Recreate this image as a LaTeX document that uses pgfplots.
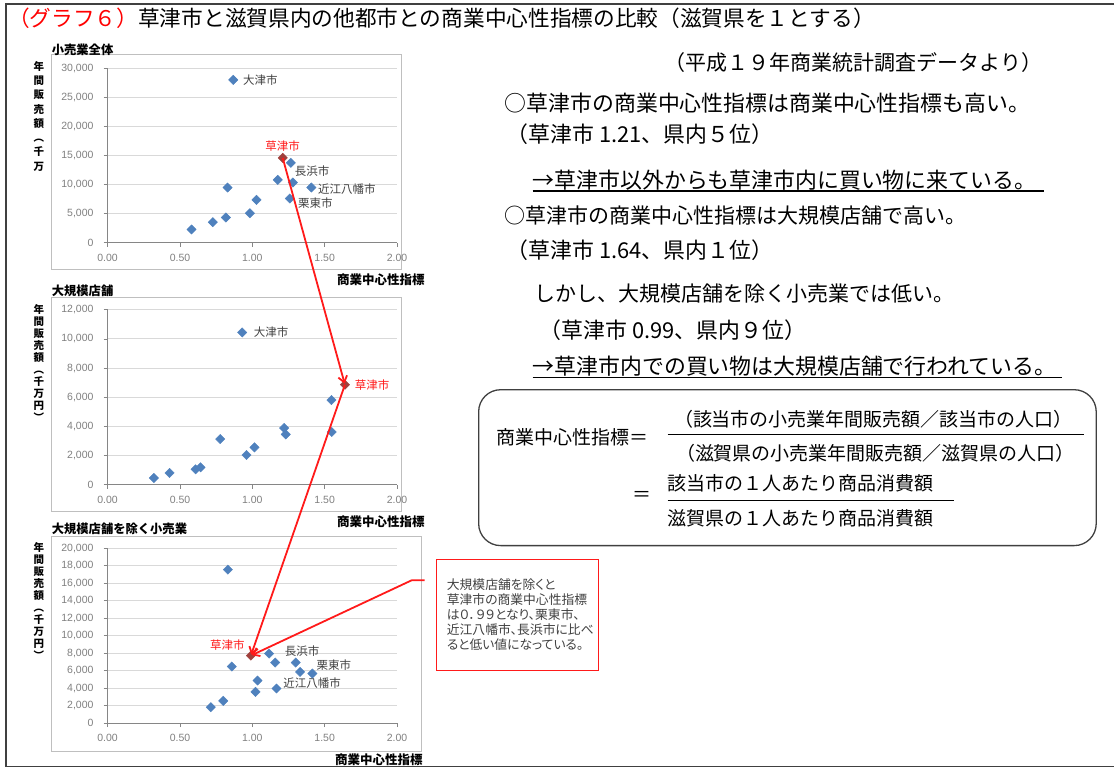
\documentclass[border=0pt]{standalone}
\usepackage{fontspec}
\usepackage{pgfplots}
\pgfplotsset{compat=1.18}
\usetikzlibrary{arrows.meta}
\setmainfont{Noto Sans CJK JP}
\newfontfamily\numfont{Liberation Sans}
\newfontfamily\pfont[RawFeature=+palt]{Noto Sans CJK JP}
\definecolor{ptblue}{HTML}{4F81BD}
\definecolor{ptred}{HTML}{A0403C}
\definecolor{arrred}{HTML}{FF1A1A}
\definecolor{gridgray}{HTML}{D9D9D9}
\definecolor{axisgray}{HTML}{868686}
\definecolor{tickgray}{HTML}{7F7F7F}
\definecolor{boxgray}{HTML}{BFBFBF}
\definecolor{txtgray}{HTML}{404040}

\pgfplotsset{
  kpanel/.style={
    scale only axis, width=289.6pt, xmin=0, xmax=2, ymin=0,
    axis lines=left, axis line style={draw=axisgray, line width=0.8pt, -},
    xtick={0,0.5,1,1.5,2}, xticklabels={0.00,0.50,1.00,1.50,2.00},
    ymajorgrids, grid style={draw=gridgray, line width=0.9pt},
    tick style={draw=axisgray, line width=0.8pt}, major tick length=4pt, tick align=outside,
    ticklabel style={font=\numfont\fontsize{10.5}{12}\selectfont, text=tickgray},
    /pgf/number format/assume math mode=true,
    /pgf/number format/fixed, /pgf/number format/1000 sep={,},
    scaled y ticks=false,
    yticklabel style={inner sep=0pt, xshift=-10pt},
    xticklabel style={inner sep=0pt, yshift=-7pt},
    clip=false, anchor=origin,
  },
  pts/.style={only marks, mark=square*, mark size=3.3pt, mark options={rotate=45, fill=ptblue, draw=ptblue}},
  kpt/.style={only marks, mark=square*, mark size=3.3pt, mark options={rotate=45, fill=ptred, draw=ptred}},
}
\tikzset{
  lbl/.style={anchor=west, inner sep=0pt, text=txtgray, font=\fontsize{11.5}{13}\selectfont},
  rlbl/.style={inner sep=0pt, text=arrred, font=\fontsize{11.5}{13}\selectfont},
  ptitle/.style={anchor=west, inner sep=0pt, font=\fontsize{12.3}{14}\selectfont\bfseries},
  xlab/.style={anchor=east, inner sep=0pt, font=\fontsize{12.5}{14}\selectfont\bfseries},
  vlab/.style={anchor=north, inner sep=0pt, align=center, font=\fontsize{10.5}{12}\selectfont\bfseries},
  rt/.style={anchor=west, inner sep=0pt, font=\fontsize{21.9}{24}\selectfont},
  rts/.style={anchor=west, inner sep=0pt, font=\fontsize{21}{24}\selectfont},
  ft/.style={inner sep=0pt, font=\fontsize{19}{22}\selectfont},
  ct/.style={anchor=west, inner sep=0pt, text=txtgray, font=\pfont\fontsize{12.8}{15}\selectfont},
}

\begin{document}
\begin{tikzpicture}
\begin{scope}[x=1pt,y=1pt]
\path (0,0) rectangle (1115,770);
% outer frame
\draw[line width=1.6pt, txtgray] (1115,766) -- (6,766) -- (6,3) -- (1115,3);
% chart area boxes
\draw[boxgray, line width=1pt] (51.7,500) rectangle (401.7,715);
\draw[boxgray, line width=1pt] (51.7,258.3) rectangle (401.7,472);
\draw[boxgray, line width=1pt] (51.7,18) rectangle (421.7,233);
\end{scope}

% ---------- Panel 1 ----------
\begin{axis}[kpanel, at={(107.7pt,527pt)}, height=174.7pt, ymax=30000, ytick={0,5000,...,30000}]
\addplot[pts] table {
x y
0.868 28000
1.266 13740
1.176 10820
1.280 10360
1.408 9500
0.829 9500
1.259 7610
1.029 7380
0.983 5090
0.817 4350
0.727 3550
0.580 2290
};
\addplot[kpt] coordinates {(1.21,14600)};
\coordinate (K1) at (axis cs:1.21,14600);
\node[lbl] at (axis cs:0.935,28000) {大津市};
\node[rlbl] at (axis cs:1.21,16650) {草津市};
\node[lbl] at (axis cs:1.293,12240) {長浜市};
\node[lbl] at (axis cs:1.454,9220) {近江八幡市};
\node[lbl] at (axis cs:1.316,6816) {栗東市};
\end{axis}

% ---------- Panel 2 ----------
\begin{axis}[kpanel, at={(107.7pt,285pt)}, height=175pt, ymax=12000, ytick={0,2000,...,12000}]
\addplot[pts] table {
x y
0.930 10446
1.547 5806
1.549 3611
1.220 3886
1.231 3451
0.778 3131
1.015 2560
0.960 2034
0.642 1189
0.608 1051
0.428 800
0.320 457
};
\addplot[kpt] coordinates {(1.64,6860)};
\coordinate (K2) at (axis cs:1.64,6860);
\node[lbl] at (axis cs:1.01,10443) {大津市};
\node[rlbl, anchor=west] at (axis cs:1.708,6857) {草津市};
\end{axis}

% ---------- Panel 3 ----------
\begin{axis}[kpanel, at={(107.7pt,46.3pt)}, height=175pt, ymax=20000, ytick={0,2000,...,20000}]
\addplot[pts] table {
x y
0.831 17562
1.116 7962
1.158 6933
1.300 6933
1.330 5867
1.415 5676
0.858 6476
1.036 4876
1.167 3962
1.022 3581
0.799 2552
0.713 1829
};
\addplot[kpt] coordinates {(0.99,7730)};
\coordinate (K3) at (axis cs:0.99,7730);
\node[rlbl] at (axis cs:0.827,8880) {草津市};
\node[lbl] at (axis cs:1.224,8229) {長浜市};
\node[lbl] at (axis cs:1.443,6629) {栗東市};
\node[lbl] at (axis cs:1.213,4617) {近江八幡市};
\end{axis}

\begin{scope}[x=1pt,y=1pt]
% panel titles and axis labels
\node[ptitle] at (51.7,720) {小売業全体};
\node[ptitle] at (51.7,478.5) {大規模店舗};
\node[ptitle] at (51.7,241) {大規模店舗を除く小売業};
\node[xlab] at (425,490) {商業中心性指標};
\node[xlab] at (425,248) {商業中心性指標};
\node[xlab] at (423,10) {商業中心性指標};
\node[vlab, font=\fontsize{10.5}{14.3}\selectfont\bfseries] at (39,709) {年\\間\\販\\売\\額\\︵\\千\\万};
\node[vlab] at (39,465) {年\\間\\販\\売\\額\\︵\\千\\万\\円\\︶};
\node[vlab] at (39,227) {年\\間\\販\\売\\額\\︵\\千\\万\\円\\︶};

% red arrows
\draw[arrred, line width=1.8pt, -{Straight Barb[length=6pt,width=9pt]}, shorten >=1pt] (K1) -- (K2);
\draw[arrred, line width=1.8pt, -{Straight Barb[length=6pt,width=9pt]}, shorten >=1pt] (K2) -- (K3);
\draw[arrred, line width=1.8pt, -{Straight Barb[length=6pt,width=9pt]}, shorten >=1pt] (425,189.3) -- (412,189.3) -- (K3);

% callout
\draw[arrred, line width=1.5pt] (437,210) rectangle (599,99);
\node[ct] at (447,185) {大規模店舗を除くと};
\node[ct] at (447,170) {草津市の商業中心性指標};
\node[ct] at (447,155) {は０．９９となり、栗東市、};
\node[ct] at (447,140) {近江八幡市、長浜市に比べ};
\node[ct] at (447,125) {ると低い値になっている。};

% title
\node[anchor=west, inner sep=0pt, font=\fontsize{21.7}{24}\selectfont] at (8,752) {\textcolor{red}{（グラフ６）}草津市と滋賀県内の他都市との商業中心性指標の比較（滋賀県を１とする）};

% right text
\node[rts] at (665,707) {（平成１９年商業統計調査データより）};
\node[rt] at (505,667) {○草津市の商業中心性指標は商業中心性指標も高い。};
\node[rt] at (507,636) {（草津市 1.21、県内５位）};
\node[rt] at (533,590) {→草津市以外からも草津市内に買い物に来ている。};
\draw[line width=1.3pt] (533,579) -- (1045,579);
\node[rts] at (505,554) {○草津市の商業中心性指標は大規模店舗で高い。};
\node[rt] at (507,520) {（草津市 1.64、県内１位）};
\node[rts] at (535,476) {しかし、大規模店舗を除く小売業では低い。};
\node[rt] at (540,440) {（草津市 0.99、県内９位）};
\node[rt] at (533,404) {→草津市内での買い物は大規模店舗で行われている。};
\draw[line width=1.3pt] (533,392) -- (1063,392);

% formula box
\draw[txtgray, line width=1.3pt, rounded corners=22pt] (479,380) rectangle (1097,224);
\node[ft, anchor=west] at (497,332.3) {商業中心性指標＝};
\node[ft] at (874,350) {（該当市の小売業年間販売額／該当市の人口）};
\draw[line width=1pt] (668,335) -- (1085,335);
\node[ft] at (876,316) {（滋賀県の小売業年間販売額／滋賀県の人口）};
\node[ft] at (642,273.3) {＝};
\node[ft, anchor=west] at (668,286.7) {該当市の１人あたり商品消費額};
\draw[line width=1pt] (668,269) -- (955,269);
\node[ft, anchor=west] at (668,251) {滋賀県の１人あたり商品消費額};
\end{scope}
\end{tikzpicture}
\end{document}
